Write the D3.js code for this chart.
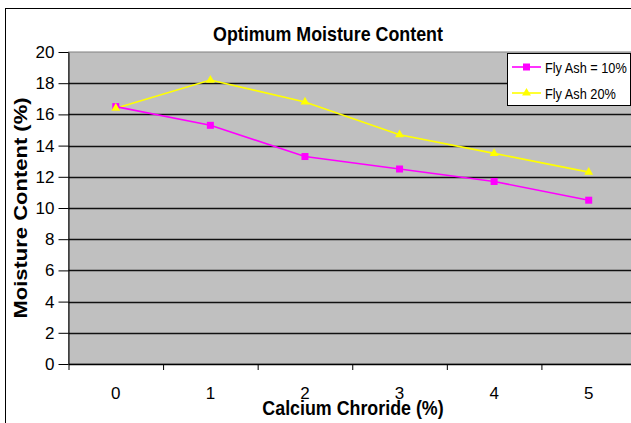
<!DOCTYPE html>
<html>
<head>
<meta charset="utf-8">
<style>
  body { margin: 0; background: #fff; }
  svg { display: block; font-family: "Liberation Sans", Arial, sans-serif; }
</style>
</head>
<body>
<svg></svg>
<script src="https://cdn.jsdelivr.net/npm/d3@7"></script>
<script>

var width = 631,
    height = 423;

// data
var categories = ["0", "1", "2", "3", "4", "5"];
var flyAsh10 = [16.5, 15.3, 13.3, 12.5, 11.7, 10.5];
var flyAsh20 = [16.4, 18.2, 16.8, 14.7, 13.5, 12.3];
var yTicks = [0, 2, 4, 6, 8, 10, 12, 14, 16, 18, 20];
var seriesNames = ["Fly Ash = 10%", "Fly Ash 20%"];

var plotLeft = 68.5, plotRight = 636, plotTop = 52, plotBottom = 364;
var squeeze = 0.85; // text in the picture is a bit narrow

var svg = d3.select("svg")
    .attr("width", width)
    .attr("height", height);

var x = d3.scaleBand()
    .domain(categories)
    .range([plotLeft, plotRight]);

// band edges, for the tick marks
var xEdge = d3.scaleLinear()
    .domain([0, categories.length])
    .range([plotLeft, plotRight]);

var y = d3.scaleLinear()
    .domain([0, 20])
    .range([plotBottom, plotTop]);

// outer chart frame
svg.append("rect")
    .attr("x", 5.5).attr("y", 8.5)
    .attr("width", 700).attr("height", 500)
    .attr("fill", "#fff")
    .attr("stroke", "#000");

// plot area
svg.append("rect")
    .attr("x", plotLeft).attr("y", plotTop)
    .attr("width", plotRight - plotLeft).attr("height", plotBottom - plotTop)
    .attr("fill", "#c0c0c0")
    .attr("stroke", "#808080");

// gridlines
svg.append("g")
  .selectAll("line")
  .data(yTicks.filter(function(d){ return d > 0 && d < 20; }))
  .enter()
  .append("line")
    .attr("x1", plotLeft).attr("x2", plotRight)
    .attr("y1", function(d){ return Math.round(y(d)) + 0.5; })
    .attr("y2", function(d){ return Math.round(y(d)) + 0.5; })
    .attr("stroke", "#111")
    .attr("stroke-width", 1.4);

// y axis
var yAxis = svg.append("g")
    .attr("transform", "translate(" + plotLeft + ",0)")
    .call(d3.axisLeft(y).tickValues(yTicks).tickSize(10).tickPadding(4).tickSizeOuter(0));
yAxis.select(".domain").attr("stroke", "#000");
yAxis.selectAll("text")
    .attr("font-size", 17)
    .attr("fill", "#000");

// x axis: tick marks at band edges
var xAxis = svg.append("g")
    .attr("transform", "translate(0," + plotBottom + ")")
    .call(d3.axisBottom(xEdge).ticks(categories.length).tickSize(6).tickFormat("").tickSizeOuter(0));
xAxis.select(".domain").attr("stroke", "#000").attr("stroke-width", 1.4);

// x labels centred in the bands
var xLabels = svg.append("g")
    .attr("transform", "translate(0," + plotBottom + ")")
    .call(d3.axisBottom(x).tickSize(0).tickPadding(23));
xLabels.select(".domain").remove();
xLabels.selectAll("text")
    .attr("font-size", 17)
    .attr("fill", "#000");

// lines + markers
var cx = function(d, i){ return x(categories[i]) + x.bandwidth() / 2; };

var line = d3.line()
    .x(cx)
    .y(function(d){ return y(d); });

svg.append("path")
    .datum(flyAsh20)
    .attr("d", line)
    .attr("fill", "none")
    .attr("stroke", "#ffff00")
    .attr("stroke-width", 1.6);

svg.append("path")
    .datum(flyAsh10)
    .attr("d", line)
    .attr("fill", "none")
    .attr("stroke", "#ff00ff")
    .attr("stroke-width", 1.6);

svg.append("g")
  .selectAll("rect")
  .data(flyAsh10)
  .enter()
  .append("rect")
    .attr("x", function(d, i){ return cx(d, i) - 3.5; })
    .attr("y", function(d){ return y(d) - 3.5; })
    .attr("width", 7).attr("height", 7)
    .attr("fill", "#ff00ff");

var tri = d3.symbol().type(d3.symbolTriangle).size(34);

svg.append("g")
  .selectAll("path")
  .data(flyAsh20)
  .enter()
  .append("path")
    .attr("d", tri)
    .attr("transform", function(d, i){ return "translate(" + cx(d, i) + "," + y(d) + ")"; })
    .attr("fill", "#ffff00");

// legend
var legend = svg.append("g");
legend.append("rect")
    .attr("x", 507.5).attr("y", 53.5)
    .attr("width", 123).attr("height", 52)
    .attr("fill", "#fff")
    .attr("stroke", "#000");

var entries = legend.selectAll("g.entry")
    .data(seriesNames)
    .enter()
    .append("g")
    .attr("class", "entry")
    .attr("transform", function(d, i){ return "translate(0," + (67 + i * 26) + ")"; });

entries.append("line")
    .attr("x1", 512).attr("x2", 541)
    .attr("stroke", function(d, i){ return i === 0 ? "#ff00ff" : "#ffff00"; })
    .attr("stroke-width", 1.6);

entries.filter(function(d, i){ return i === 0; })
  .append("rect")
    .attr("x", 523).attr("y", -3.5)
    .attr("width", 7).attr("height", 7)
    .attr("fill", "#ff00ff");

entries.filter(function(d, i){ return i === 1; })
  .append("path")
    .attr("d", tri)
    .attr("transform", "translate(526.5,0)")
    .attr("fill", "#ffff00");

entries.append("text")
    .attr("transform", "translate(545,5.5) scale(" + squeeze + ",1)")
    .attr("font-size", 15)
    .text(function(d){ return d; });

// titles
svg.append("text")
    .attr("transform", "translate(328,41) scale(" + squeeze + ",1)")
    .attr("text-anchor", "middle")
    .attr("font-size", 21)
    .attr("font-weight", "bold")
    .text("Optimum Moisture Content");

svg.append("text")
    .attr("transform", "translate(353,415) scale(" + squeeze + ",1)")
    .attr("text-anchor", "middle")
    .attr("font-size", 21)
    .attr("font-weight", "bold")
    .text("Calcium Chroride (%)");

svg.append("text")
    .attr("transform", "translate(27,208) scale(" + squeeze + ",1) rotate(-90)")
    .attr("text-anchor", "middle")
    .attr("font-size", 22)
    .attr("font-weight", "bold")
    .text("Moisture Content (%)");

</script>
</body>
</html>
